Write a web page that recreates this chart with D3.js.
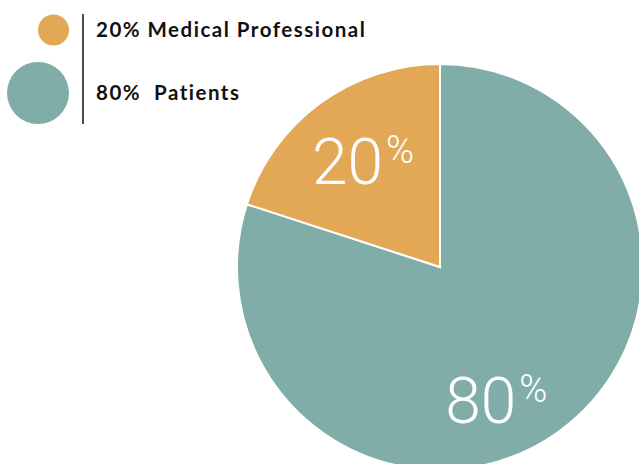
<!DOCTYPE html>
<html>
<head>
<meta charset="utf-8">
<script src="https://cdn.jsdelivr.net/npm/d3@7"></script>
<style>
  body { margin: 0; background: #fff; }
  svg { display: block; }
</style>
</head>
<body>
<div id="chart"></div>
<script>
// chart data
const categories = ['Medical Professional', 'Patients'];
const values = [20, 80];
const legendLabels = ['20% Medical Professional', '80%  Patients'];
const colors = ['#E2A855', '#80ADA7'];

const width = 639, height = 464;
const cx = 440, cy = 267, radius = 203;

const svg = d3.select('#chart').append('svg')
    .attr('width', width)
    .attr('height', height);

const data = categories.map((c, i) => ({ name: c, value: values[i], color: colors[i], legend: legendLabels[i] }));

// pie: patients first clockwise from top, professionals fill the rest
const pie = d3.pie().sort(null).value(d => d.value)
    .startAngle(0).endAngle(2 * Math.PI);
const arcs = pie(data.slice().reverse());
const arc = d3.arc().innerRadius(0).outerRadius(radius);

const g = svg.append('g').attr('transform', `translate(${cx},${cy})`);

g.selectAll('path')
    .data(arcs)
    .enter()
    .append('path')
    .attr('d', arc)
    .attr('fill', d => d.data.color)
    .attr('stroke', '#fff')
    .attr('stroke-width', 2);

// label placement (angle from top clockwise, distance from centre)
const labelPos = {
    'Medical Professional': { r: 131 },
    'Patients': { angle: 157 * Math.PI / 180, r: 144 }
};

const labels = g.selectAll('text.pct')
    .data(arcs)
    .enter()
    .append('text')
    .attr('class', 'pct')
    .attr('transform', d => {
        const p = labelPos[d.data.name];
        const a = p.angle !== undefined ? p.angle : (d.startAngle + d.endAngle) / 2;
        return `translate(${p.r * Math.sin(a)},${-p.r * Math.cos(a) + 23})`;
    })
    .attr('text-anchor', 'middle')
    .attr('fill', '#fff')
    .style('font-family', 'Roboto, sans-serif')
    .style('font-weight', 300);

labels.append('tspan')
    .style('font-size', '64px')
    .text(d => d.data.value);
labels.append('tspan')
    .attr('dy', -21)
    .attr('dx', 3)
    .style('font-size', '38px')
    .text('%');

// legend
const rScale = d3.scaleSqrt().domain([0, d3.max(values)]).range([0, 31]);
const legendY = d3.scalePoint().domain(categories).range([30, 93]);

const legend = svg.append('g').attr('class', 'legend');

legend.selectAll('circle')
    .data(data)
    .enter()
    .append('circle')
    .attr('cx', d => 69 - rScale(d.value))
    .attr('cy', d => legendY(d.name))
    .attr('r', d => rScale(d.value))
    .attr('fill', d => d.color);

legend.append('line')
    .attr('x1', 83).attr('x2', 83)
    .attr('y1', 14).attr('y2', 124)
    .attr('stroke', '#111')
    .attr('stroke-width', 1.5);

legend.selectAll('text')
    .data(data)
    .enter()
    .append('text')
    .attr('x', 96)
    .attr('y', d => legendY(d.name) + 7)
    .attr('fill', '#111')
    .style('font-family', 'Lato, sans-serif')
    .style('font-weight', 700)
    .style('font-size', '20.5px')
    .style('letter-spacing', '1.5px')
    .style('white-space', 'pre')
    .attr('xml:space', 'preserve')
    .text(d => d.legend);
</script>
</body>
</html>
